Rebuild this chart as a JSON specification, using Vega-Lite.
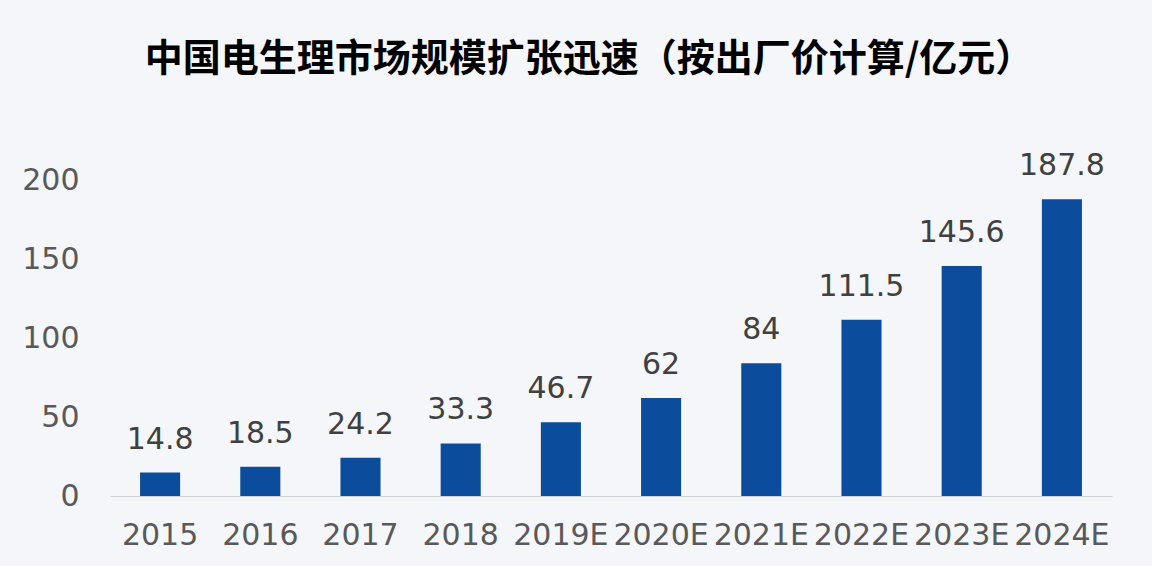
{
  "$schema": "https://vega.github.io/schema/vega-lite/v6.json",
  "width": 1002,
  "height": 316,
  "autosize": "none",
  "padding": {"left": 110, "top": 180, "right": 40, "bottom": 70},
  "background": "#f4f6f9",
  "title": {
    "text": "中国电生理市场规模扩张迅速（按出厂价计算/亿元）",
    "font": "Noto Sans CJK SC",
    "fontSize": 38,
    "fontWeight": "bold",
    "color": "#000000",
    "anchor": "middle",
    "dx": -22,
    "offset": 72
  },
  "data": {
    "values": [
      {"year": "2015", "value": 14.8},
      {"year": "2016", "value": 18.5},
      {"year": "2017", "value": 24.2},
      {"year": "2018", "value": 33.3},
      {"year": "2019E", "value": 46.7},
      {"year": "2020E", "value": 62},
      {"year": "2021E", "value": 84},
      {"year": "2022E", "value": 111.5},
      {"year": "2023E", "value": 145.6},
      {"year": "2024E", "value": 187.8}
    ]
  },
  "encoding": {
    "x": {
      "field": "year",
      "type": "nominal",
      "sort": null,
      "scale": {"paddingInner": 0.6, "paddingOuter": 0.3},
      "axis": {
        "title": null,
        "labelAngle": 0,
        "ticks": false,
        "domainColor": "#d0d0d0",
        "labelFont": "DejaVu Sans",
        "labelFontSize": 30,
        "labelColor": "#595959",
        "labelPadding": 24,
        "labelOverlap": false
      }
    },
    "y": {
      "field": "value",
      "type": "quantitative",
      "scale": {"domain": [0, 200]},
      "axis": {
        "title": null,
        "values": [0, 50, 100, 150, 200],
        "grid": false,
        "domain": false,
        "ticks": false,
        "labelFont": "DejaVu Sans",
        "labelFontSize": 30,
        "labelColor": "#595959",
        "labelPadding": 31
      }
    }
  },
  "layer": [
    {"mark": {"type": "bar", "color": "#0b4d9c"}},
    {
      "mark": {
        "type": "text",
        "baseline": "bottom",
        "dy": -18,
        "font": "DejaVu Sans",
        "fontSize": 30,
        "color": "#404040"
      },
      "encoding": {"text": {"field": "value", "type": "quantitative"}}
    }
  ],
  "config": {"view": {"stroke": null}}
}
